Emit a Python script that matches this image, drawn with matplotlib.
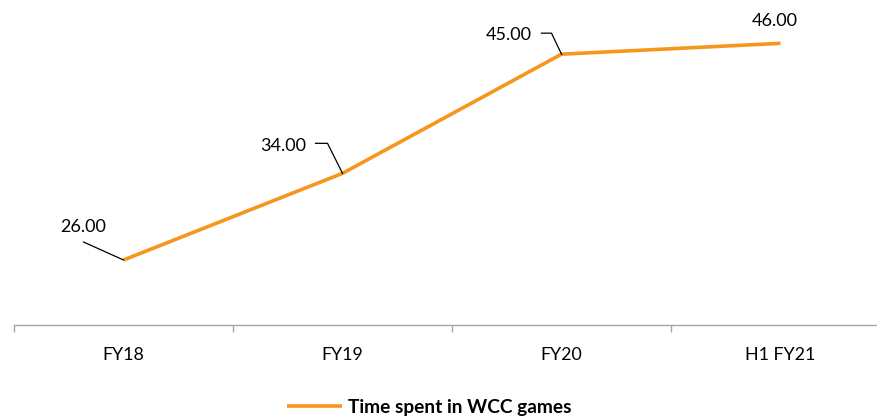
import matplotlib
matplotlib.use("Agg")
import matplotlib.pyplot as plt
from matplotlib.transforms import ScaledTranslation

categories = ["FY18", "FY19", "FY20", "H1 FY21"]
time_spent = [26.00, 34.00, 45.00, 46.00]
series_name = "Time spent in WCC games"

ORANGE = "#F7961C"
FONT = "Lato"

W, H, DPI = 878, 416, 100
fig = plt.figure(figsize=(W / DPI, H / DPI), dpi=DPI)
# axis runs off the right edge: one category slot is 219 px wide
ax = fig.add_axes([14 / W, (H - 325) / H, 876 / W, 325 / H])

x = list(range(len(categories)))
line, = ax.plot(x, time_spent, color=ORANGE, lw=2.6, solid_capstyle="butt",
                label=series_name)

ax.set_xlim(-0.5, len(categories) - 0.5)
ax.set_ylim(20, 50)
ax.set_yticks([])
for s in ("top", "right", "left"):
    ax.spines[s].set_visible(False)
ax.spines["bottom"].set_color("#A6A6A6")
ax.spines["bottom"].set_linewidth(1.0)

ax.set_xticks(x)
ax.set_xticklabels(categories, fontfamily=FONT, fontsize=12.8, color="#000000")
ax.set_xticks([i - 0.5 for i in range(len(categories))], minor=True)
ax.tick_params(axis="x", which="major", length=0, pad=16)
ax.tick_params(axis="x", which="minor", length=5, color="#A6A6A6", width=1,
               direction="out")

# data labels: offsets in px from the point (y up), with leader polylines
label_offsets = [(-40, 33), (-59, 27), (-53, 19), (-6, 22)]
leaders = [
    [(-40, 18), (0, 0)],
    [(-27, 30), (-15, 30), (0, 0)],
    [(-20, 21), (-10, 21), (0, 0)],
    None,
]
for i, (v, off, ld) in enumerate(zip(time_spent, label_offsets, leaders)):
    base = fig.dpi_scale_trans + ScaledTranslation(i, v, ax.transData)
    ax.text(off[0] / DPI, off[1] / DPI, f"{v:.2f}", transform=base,
            ha="center", va="center", fontfamily=FONT, fontsize=13,
            color="#000000")
    if ld:
        ax.plot([p[0] / DPI for p in ld], [p[1] / DPI for p in ld],
                transform=base, color="#000000", lw=0.9, clip_on=False)

leg = fig.legend(handles=[line], loc="center", frameon=False,
                 bbox_to_anchor=(429 / W, 9 / H), handlelength=2.9,
                 handletextpad=0.27, borderpad=0,
                 prop={"family": FONT, "weight": "bold", "size": 13.8})

fig.savefig("out.png", dpi=DPI)
